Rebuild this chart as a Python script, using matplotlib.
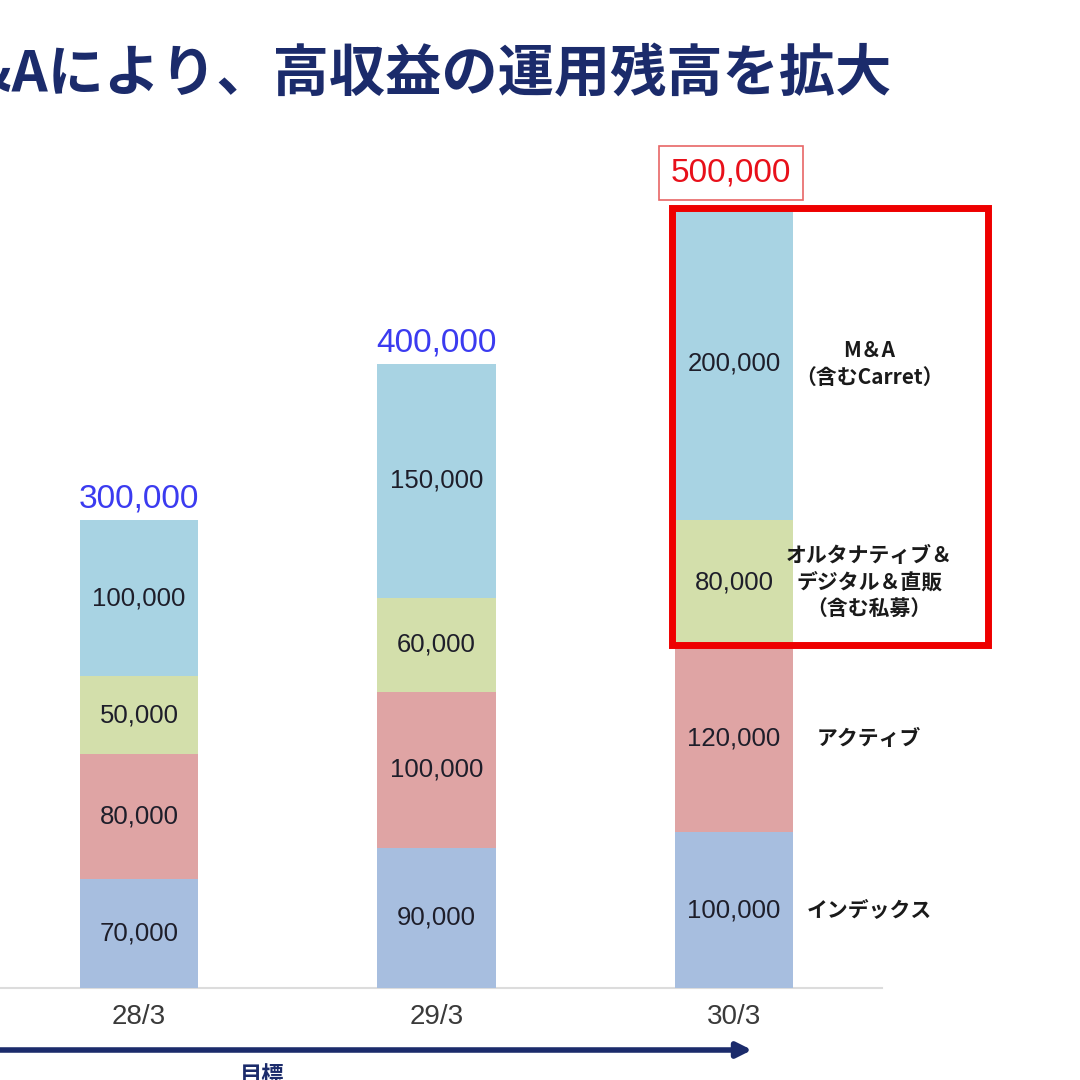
import matplotlib.pyplot as plt
from matplotlib.patches import Rectangle

# Data (運用残高)
periods = ["28/3", "29/3", "30/3"]
index_funds = [70000, 90000, 100000]
active_funds = [80000, 100000, 120000]
alternative = [50000, 60000, 80000]
mna = [100000, 150000, 200000]

series_values = [index_funds, active_funds, alternative, mna]
series_names = [
    "インデックス",
    "アクティブ",
    "オルタナティブ＆\nデジタル＆直販\n（含む私募）",
    "M＆A\n（含むCarret）",
]
series_colors = ["#a7bedf", "#dfa4a4", "#d3dfab", "#a8d3e3"]

title = "M&Aにより、高収益の運用残高を拡大"
target_label = "目標"

NAVY = "#1b2b6b"
JP = ["Noto Sans CJK JP", "DejaVu Sans"]
NUM = ["Liberation Sans", "DejaVu Sans"]

fig = plt.figure(figsize=(10.8, 10.8), dpi=100)
ax = fig.add_axes([0, 0, 1, 1])
# pixel-calibrated scales: bar centres at 139/436/734 px, baseline at 988 px
ax.set_xlim(-0.4672, 3.1630)
ax.set_ylim(-58974, 633333)
ax.axis("off")

x = list(range(len(periods)))
bar_w = 0.397
bottoms = [0] * len(periods)
for vals, color in zip(series_values, series_colors):
    ax.bar(x, vals, width=bar_w, bottom=bottoms, color=color, edgecolor="none", zorder=2)
    for xi, v, b in zip(x, vals, bottoms):
        ax.text(xi, b + v / 2, f"{v:,}", ha="center", va="center",
                fontsize=18.5, color="#1e1e2a", family=NUM, zorder=3)
    bottoms = [b + v for b, v in zip(bottoms, vals)]
totals = bottoms

# series names to the right of the last bar
cum = 0
for vals, name in zip(series_values, series_names):
    ax.text(x[-1] + 0.454, cum + vals[-1] / 2, name, ha="center", va="center",
            fontsize=15, fontweight="bold", color="#1a1a1a", family=JP,
            linespacing=1.35)
    cum += vals[-1]

# totals
for xi, t in zip(x[:-1], totals[:-1]):
    ax.annotate(f"{t:,}", (xi, t), xytext=(0, 4), textcoords="offset points",
                ha="center", va="bottom", fontsize=24, color="#3b3bf0", family=NUM)
ax.annotate(f"{totals[-1]:,}", (x[-1], totals[-1]), xytext=(-2, 14),
            textcoords="offset points", ha="center", va="bottom", fontsize=24,
            color="#e8101a", family=NUM,
            bbox=dict(boxstyle="square,pad=0.35", fc="white", ec="#e86666", lw=1.2))

# highlight box around the growth segments of the final bar
box_bottom = index_funds[-1] + active_funds[-1]
ax.add_patch(Rectangle((1.792, box_bottom), 2.854 - 1.792, totals[-1] - box_bottom,
                       fill=False, ec="#ee0000", lw=5, zorder=5))

# baseline and period labels
ax.plot([-0.4672, 2.497], [0, 0], color="#dcdcdc", lw=1.5, zorder=1)
for xi, p in zip(x, periods):
    ax.text(xi, -18590, p, ha="center", va="center", fontsize=20,
            color="#3a3a3a", family=NUM)

# arrow and target label at the bottom
ax.annotate("", xy=(752 / 1080, 1 - 1050 / 1080), xytext=(0, 1 - 1050 / 1080),
            xycoords="figure fraction", textcoords="figure fraction",
            arrowprops=dict(arrowstyle="-|>", lw=4, color=NAVY,
                            mutation_scale=22, shrinkA=0, shrinkB=0))
fig.text(262 / 1080, 1 - 1064 / 1080, target_label, ha="center", va="top",
         fontsize=16, fontweight="bold", color=NAVY, family=JP)

fig.text(892 / 1080, 1 - 75 / 1080, title, ha="right", va="center",
         fontsize=40.5, fontweight="bold", color=NAVY, family=JP)

fig.savefig("out.png", dpi=100, facecolor="white")
